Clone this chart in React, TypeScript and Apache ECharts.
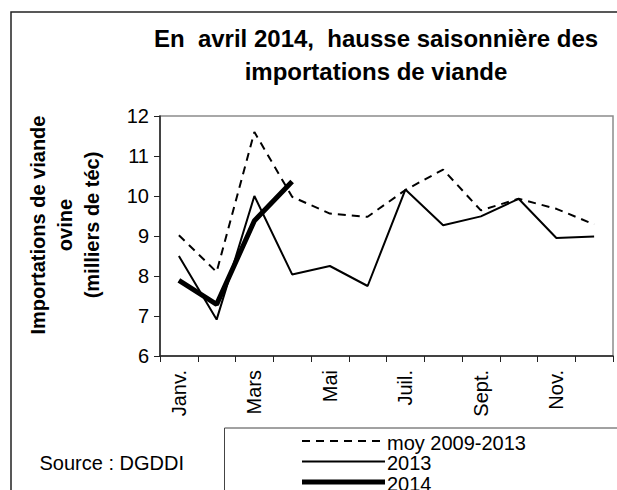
import React, { useEffect, useRef } from "react";
import * as echarts from "echarts";

const months = ["Janv.", "Févr.", "Mars", "Avr.", "Mai", "Juin", "Juil.", "Août", "Sept.", "Oct.", "Nov.", "Déc."];
const moy20092013 = [9.02, 8.1, 11.6, 9.98, 9.56, 9.48, 10.15, 10.66, 9.64, 9.93, 9.68, 9.29];
const y2013 = [8.5, 6.91, 10.0, 8.04, 8.25, 7.75, 10.16, 9.27, 9.49, 9.93, 8.95, 8.99];
const y2014 = [7.89, 7.29, 9.38, 10.36];
const seriesNames = ["moy 2009-2013", "2013", "2014"];
const yTicks = { min: 6, max: 12, step: 1 };

const FONT = "'Liberation Sans', Arial, sans-serif";
const lineStyles = [
  { color: "#000", width: 2, type: [8, 6] as number[] | "solid" },
  { color: "#000", width: 2, type: "solid" as number[] | "solid" },
  { color: "#000", width: 5, type: "solid" as number[] | "solid" },
];

export default function App() {
  const ref = useRef<HTMLDivElement>(null);
  useEffect(() => {
    if (!ref.current) return;
    const chart = echarts.init(ref.current, null, { renderer: "svg" });
    const legendX0 = 302;
    const legendX1 = 385;
    const legendY0 = 441;
    const legendStep = 20.5;
    const legendGraphics: any[] = [];
    seriesNames.forEach((name, i) => {
      const ls = lineStyles[i];
      const y = legendY0 + i * legendStep;
      legendGraphics.push({
        type: "line",
        shape: { x1: legendX0, y1: y, x2: legendX1, y2: y },
        style: {
          stroke: ls.color,
          lineWidth: ls.width,
          lineDash: Array.isArray(ls.type) ? ls.type : null,
        },
        z: 10,
      });
      legendGraphics.push({
        type: "text",
        x: legendX1 + 2,
        y: y + 1.5,
        style: {
          text: name,
          font: `20px ${FONT}`,
          fill: "#000",
          textAlign: "left",
          textVerticalAlign: "middle",
        },
        z: 10,
      });
    });
    chart.setOption({
      animation: false,
      backgroundColor: "#fff",
      title: {
        text: "En  avril 2014,  hausse saisonnière des\nimportations de viande",
        left: 371,
        top: 17,
        textAlign: "center",
        textStyle: { fontFamily: FONT, fontSize: 24, fontWeight: "bold", color: "#000", lineHeight: 33 },
      },
      grid: {
        left: 160,
        top: 116,
        right: 4,
        bottom: 134,
        show: true,
        borderColor: "#8c8c8c",
        borderWidth: 1.5,
        backgroundColor: "transparent",
      },
      xAxis: {
        type: "category",
        data: months,
        boundaryGap: true,
        axisLine: { lineStyle: { color: "#222", width: 1.5 } },
        axisTick: { show: true, interval: 0, length: 6, inside: false, lineStyle: { color: "#222" } },
        axisLabel: { interval: 1, rotate: 90, margin: 14, fontFamily: FONT, fontSize: 20, color: "#000" },
        splitLine: { show: false },
      },
      yAxis: {
        type: "value",
        min: yTicks.min,
        max: yTicks.max,
        interval: yTicks.step,
        axisLine: { show: true, lineStyle: { color: "#222", width: 1.5 } },
        axisTick: { show: true, length: 6, lineStyle: { color: "#222" } },
        axisLabel: { margin: 11, fontFamily: FONT, fontSize: 20, color: "#000" },
        splitLine: { show: false },
      },
      graphic: [
        {
          type: "rect",
          shape: { x: 11, y: 12, width: 620, height: 500 },
          style: { fill: "none", stroke: "#222", lineWidth: 1.5 },
          z: -10,
        },
        {
          type: "rect",
          shape: { x: 224.5, y: 428, width: 420, height: 100 },
          style: { fill: "#fff", stroke: "#444", lineWidth: 1 },
          z: -5,
        },
        {
          type: "text",
          x: 65,
          y: 225,
          rotation: Math.PI / 2,
          style: {
            text: "Importations de viande\novine\n(milliers de téc)",
            font: `bold 20px ${FONT}`,
            fill: "#000",
            textAlign: "center",
            textVerticalAlign: "middle",
            lineHeight: 27,
          },
        },
        {
          type: "text",
          x: 184,
          y: 463,
          style: {
            text: "Source : DGDDI",
            font: `20px ${FONT}`,
            fill: "#000",
            textAlign: "right",
            textVerticalAlign: "middle",
          },
        },
        ...legendGraphics,
      ],
      series: [
        { name: seriesNames[0], data: moy20092013, z: 2 },
        { name: seriesNames[1], data: y2013, z: 3 },
        { name: seriesNames[2], data: y2014, z: 4 },
      ].map((s, i) => ({
        ...s,
        type: "line",
        symbol: "none",
        lineStyle: { color: lineStyles[i].color, width: lineStyles[i].width, type: lineStyles[i].type },
        itemStyle: { color: "#000" },
      })),
    });
    return () => chart.dispose();
  }, []);
  return (
    <div
      ref={ref}
      style={{ position: "fixed", left: 0, top: 0, width: 617, height: 490 }}
    />
  );
}
